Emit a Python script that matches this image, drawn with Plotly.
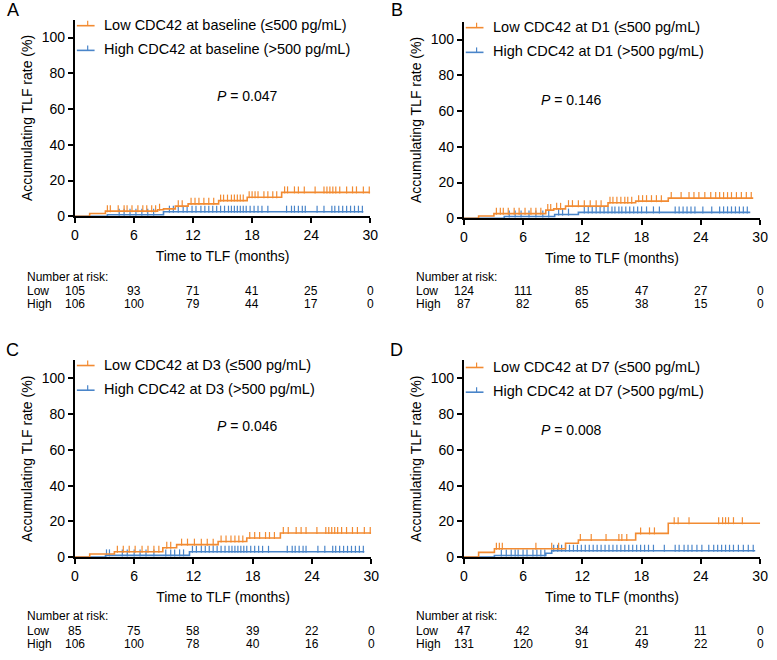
import plotly.graph_objects as go

# ---- data (months, cumulative TLF %) ----
a_low_times = [1.5, 3.1, 8.4, 9.0, 10.2, 11.5, 14.6, 17.5, 21.0]
a_low_rates = [1.6, 2.9, 3.7, 4.2, 5.7, 7.0, 8.8, 10.7, 13.4]
a_low_cens = [3.3, 3.6, 4.4, 5.0, 5.3, 5.8, 6.4, 6.9, 7.3, 7.8, 8.2, 8.6, 10.5, 10.9,
              11.8, 12.2, 12.6, 13.1, 13.6, 14.1, 14.8, 15.1, 15.5, 15.9, 16.2, 16.5,
              16.8, 17.1, 17.7, 18.0, 18.3, 18.6, 19.2, 19.6, 20.1, 20.5, 21.3, 21.6,
              22.3, 22.7, 23.3, 24.4, 25.3, 25.6, 25.9, 26.2, 26.5, 26.9, 27.6, 28.2,
              28.6, 29.3, 29.9]
a_low_end = 30.0
a_high_times = [3.3, 9.0]
a_high_rates = [0.9, 2.6]
a_high_cens = [4.5, 5.0, 5.6, 6.2, 6.8, 7.4, 8.0, 9.6, 10.0, 10.5, 11.0, 11.4, 11.9,
               12.3, 12.8, 13.2, 13.6, 14.0, 14.4, 14.8, 15.2, 15.6, 15.9, 16.2, 16.5,
               16.8, 17.1, 17.4, 17.8, 18.2, 18.6, 19.0, 19.6, 21.5, 22.0, 22.3, 22.7,
               23.1, 23.4, 24.6, 25.3, 26.1, 26.4, 26.8, 27.2, 27.6, 28.0, 28.4, 28.8,
               29.2]
a_high_end = 29.3

b_low_times = [1.5, 3.05, 8.3, 9.1, 10.3, 14.6, 17.4, 20.7]
b_low_rates = [1.3, 2.6, 4.6, 5.3, 6.8, 8.7, 9.6, 11.3]
b_low_cens = [3.3, 3.7, 4.0, 4.5, 5.1, 5.6, 6.2, 6.8, 7.3, 7.8, 8.5, 8.8, 9.4, 9.8,
              10.6, 11.0, 11.6, 12.2, 12.8, 13.4, 13.9, 14.8, 15.1, 15.5, 15.9, 16.3,
              16.6, 17.0, 17.7, 18.1, 18.5, 19.0, 19.5, 20.0, 21.0, 22.0, 22.8, 23.3,
              23.8, 24.4, 25.0, 25.5, 25.9, 26.3, 26.7, 27.1, 27.6, 28.1, 28.6, 29.1]
b_low_end = 29.3
b_high_times = [4.1, 9.2, 11.6]
b_high_rates = [1.0, 2.1, 3.3]
b_high_cens = [4.6, 5.2, 5.8, 6.6, 7.3, 8.0, 8.6, 9.6, 10.0, 10.6, 12.2, 12.6, 13.0,
               13.4, 13.8, 14.2, 14.6, 15.0, 15.3, 15.7, 16.0, 16.4, 16.8, 17.2, 17.6,
               18.0, 18.5, 19.2, 19.8, 21.4, 21.8, 22.2, 22.6, 23.0, 23.4, 24.2, 25.1,
               25.9, 26.3, 26.7, 27.1, 27.5, 27.9, 28.3, 28.7]
b_high_end = 29.0

c_low_times = [1.5, 4.0, 8.9, 10.3, 14.5, 17.4, 20.8]
c_low_rates = [1.8, 3.0, 5.3, 7.0, 8.8, 10.7, 13.5]
c_low_cens = [4.3, 4.9, 5.5, 6.1, 6.8, 7.4, 8.0, 8.5, 9.3, 9.7, 10.8, 11.4, 12.1, 12.8,
              13.4, 14.0, 14.8, 15.3, 15.8, 16.2, 16.6, 17.0, 17.7, 18.2, 18.7, 19.3,
              19.7, 20.2, 21.1, 21.6, 22.4, 22.9, 23.4, 24.5, 25.4, 25.7, 26.0, 26.3,
              26.6, 27.0, 27.5, 28.1, 28.6, 29.3, 29.9]
c_low_end = 30.0
c_high_times = [3.1, 11.6]
c_high_rates = [1.0, 3.0]
c_high_cens = [3.2, 3.5, 4.8, 5.3, 6.0, 6.6, 7.2, 8.0, 9.2, 9.7, 10.1, 10.6, 11.0,
               11.9, 12.3, 12.8, 13.2, 13.6, 14.0, 14.4, 14.8, 15.2, 15.6, 15.9, 16.2,
               16.5, 16.8, 17.1, 17.4, 17.8, 18.2, 18.6, 19.0, 19.6, 21.5, 22.0, 22.3,
               22.7, 23.1, 23.4, 24.6, 25.3, 26.1, 26.4, 26.8, 27.2, 27.6, 28.0, 28.4,
               28.8, 29.2]
c_high_end = 29.3

d_low_times = [1.5, 3.1, 10.3, 11.6, 17.4, 20.7]
d_low_rates = [2.7, 4.7, 7.8, 9.6, 13.3, 19.0]
d_low_cens = [3.3, 3.6, 3.9, 7.3, 8.9, 9.6, 11.8, 12.9, 14.4, 15.7, 16.0, 16.5, 17.9,
              18.8, 19.3, 21.3, 21.7, 22.8, 25.8, 26.2, 26.5, 26.8, 27.3, 28.2]
d_low_end = 30.0
d_high_times = [3.1, 8.3, 8.9]
d_high_rates = [0.9, 2.2, 3.6]
d_high_cens = [3.8, 4.3, 4.8, 5.2, 5.5, 6.0, 6.4, 7.0, 7.4, 7.8, 8.2, 9.1, 9.5, 9.9,
               10.3, 10.7, 11.1, 11.5, 11.9, 12.3, 12.7, 13.1, 13.5, 13.9, 14.3, 14.7,
               15.1, 15.5, 15.9, 16.3, 16.7, 17.1, 17.5, 17.9, 18.3, 18.7, 19.2, 20.3,
               21.4, 21.8, 22.3, 22.7, 23.1, 23.6, 24.1, 24.8, 25.3, 25.7, 26.1, 26.5,
               26.9, 27.3, 27.8, 28.3, 28.8, 29.3]
d_high_end = 29.5

risk_times = [0, 6, 12, 18, 24, 30]
a_risk_low = [105, 93, 71, 41, 25, 0]
a_risk_high = [106, 100, 79, 44, 17, 0]
b_risk_low = [124, 111, 85, 47, 27, 0]
b_risk_high = [87, 82, 65, 38, 15, 0]
c_risk_low = [85, 75, 58, 39, 22, 0]
c_risk_high = [106, 100, 78, 40, 16, 0]
d_risk_low = [47, 42, 34, 21, 11, 0]
d_risk_high = [131, 120, 91, 49, 22, 0]

p_values = ["0.047", "0.146", "0.046", "0.008"]
timepoints = ["baseline", "D1", "D3", "D7"]
panel_letters = ["A", "B", "C", "D"]

ORANGE = "#F28B32"
BLUE = "#4A85C9"
FONT = "Arial, Liberation Sans, sans-serif"
W, H = 777, 660
TICK_LIFT = 1.4  # censor ticks stand on the curve, GraphPad style


def fx(px):
    return px / W


def fy(py):
    return 1 - py / H


def step_curve(times, rates, t_end):
    xs, ys = [0], [0]
    for t, r in zip(times, rates):
        xs.append(t)
        ys.append(r)
    xs.append(t_end)
    ys.append(rates[-1])
    return xs, ys


def level_at(times, rates, t):
    lvl = 0
    for tt, r in zip(times, rates):
        if tt <= t:
            lvl = r
    return lvl


panels = [
    dict(low=(a_low_times, a_low_rates, a_low_cens, a_low_end),
         high=(a_high_times, a_high_rates, a_high_cens, a_high_end),
         risk=(a_risk_low, a_risk_high), box=(72, 372, 219), left=21, letter_x=9, top=0),
    dict(low=(b_low_times, b_low_rates, b_low_cens, b_low_end),
         high=(b_high_times, b_high_rates, b_high_cens, b_high_end),
         risk=(b_risk_low, b_risk_high), box=(467, 768, 221), left=416, letter_x=399, top=0),
    dict(low=(c_low_times, c_low_rates, c_low_cens, c_low_end),
         high=(c_high_times, c_high_rates, c_high_cens, c_high_end),
         risk=(c_risk_low, c_risk_high), box=(72, 373, 564), left=21, letter_x=9, top=344),
    dict(low=(d_low_times, d_low_rates, d_low_cens, d_low_end),
         high=(d_high_times, d_high_rates, d_high_cens, d_high_end),
         risk=(d_risk_low, d_risk_high), box=(467, 768, 564), left=416, letter_x=399, top=344),
]

fig = go.Figure()
annotations = []
shapes = []
PX_PER_PCT = 1.81

for i, p in enumerate(panels):
    n = "" if i == 0 else str(i + 1)
    xa, ya = "x" + n, "y" + n
    x0, x1, ybot = p["box"]
    ytop = ybot - 110 * PX_PER_PCT

    for key, col in (("high", BLUE), ("low", ORANGE)):
        times, rates, cens, t_end = p[key]
        xs, ys = step_curve(times, rates, t_end)
        fig.add_trace(go.Scatter(x=xs, y=ys, mode="lines", line=dict(color=col, width=1.6, shape="hv"),
                                 xaxis=xa, yaxis=ya, showlegend=False, hoverinfo="skip"))
        fig.add_trace(go.Scatter(x=cens, y=[level_at(times, rates, t) + TICK_LIFT for t in cens],
                                 mode="markers",
                                 marker=dict(symbol="line-ns", size=5, line=dict(color=col, width=1.2)),
                                 xaxis=xa, yaxis=ya, showlegend=False, cliponaxis=False))

    ax_common = dict(showline=True, linecolor="black", linewidth=2, ticks="outside", ticklen=5,
                     tickwidth=2, tickcolor="black", showgrid=False, zeroline=False,
                     tickfont=dict(family=FONT, size=14, color="black"))
    fig.layout["xaxis" + n] = dict(ax_common, domain=[fx(x0), fx(x1)], range=[0, 30], tickvals=risk_times,
                                   anchor=ya, title=dict(text="Time to TLF (months)", standoff=9,
                                                         font=dict(family=FONT, size=14, color="black")))
    fig.layout["yaxis" + n] = dict(ax_common, domain=[fy(ybot), fy(ytop)], range=[0, 110],
                                   tickvals=[0, 20, 40, 60, 80, 100], anchor=xa,
                                   title=dict(text="Accumulating TLF rate (%)", standoff=6,
                                              font=dict(family=FONT, size=14, color="black")))

    # legend (drawn manually to match the short GraphPad sample)
    top = p["top"] + (0 if i % 2 == 0 else 2)
    for k, (col, grp, thr) in enumerate(((ORANGE, "Low", "≤500"), (BLUE, "High", ">500"))):
        yy = top + 26 + 25 * k
        shapes.append(dict(type="line", xref="paper", yref="paper", x0=fx(x0 + 2), x1=fx(x0 + 20),
                           y0=fy(yy), y1=fy(yy), line=dict(color=col, width=1.6)))
        shapes.append(dict(type="line", xref="paper", yref="paper", x0=fx(x0 + 13), x1=fx(x0 + 13),
                           y0=fy(yy), y1=fy(yy - 5), line=dict(color=col, width=1.2)))
        annotations.append(dict(text=f"{grp} CDC42 at {timepoints[i]} ({thr} pg/mL)", xref="paper",
                                yref="paper", x=fx(x0 + 28), y=fy(yy - 1), xanchor="left", yanchor="middle",
                                showarrow=False, font=dict(family=FONT, size=14.5, color="black")))

    annotations.append(dict(text=f"<i>P</i> = {p_values[i]}", xref="paper", yref="paper",
                            x=fx(x0 + 142), y=fy(top + 87 + (2 if i % 2 else 0)), showarrow=False,
                            font=dict(family=FONT, size=14, color="black")))
    annotations.append(dict(text=panel_letters[i], xref="paper", yref="paper", x=fx(p["letter_x"]),
                            y=fy(p["top"] + 10), xanchor="center", yanchor="middle", showarrow=False,
                            font=dict(family=FONT, size=18, color="black")))

    # number at risk table
    rtop = p["top"] + 280
    annotations.append(dict(text="Number at risk:", xref="paper", yref="paper", x=fx(p["left"]),
                            y=fy(rtop), xanchor="left", yanchor="middle", showarrow=False,
                            font=dict(family=FONT, size=12, color="black")))
    for k, (lab, vals) in enumerate((("Low", p["risk"][0]), ("High", p["risk"][1]))):
        yy = rtop + 1 + 13.5 * (k + 1)
        annotations.append(dict(text=lab, xref="paper", yref="paper", x=fx(p["left"]), y=fy(yy),
                                xanchor="left", yanchor="middle", showarrow=False,
                                font=dict(family=FONT, size=12, color="black")))
        for t, v in zip(risk_times, vals):
            annotations.append(dict(text=str(v), xref=xa, yref="paper", x=t, y=fy(yy), showarrow=False,
                                    xanchor="center", yanchor="middle",
                                    font=dict(family=FONT, size=12, color="black")))

fig.update_layout(width=W, height=H, margin=dict(l=0, r=0, t=0, b=0), plot_bgcolor="white",
                  paper_bgcolor="white", annotations=annotations, shapes=shapes,
                  font=dict(family=FONT, color="black"))

fig.write_html("out.html", config={"displayModeBar": False},
               post_script="document.body.style.margin='0';")
